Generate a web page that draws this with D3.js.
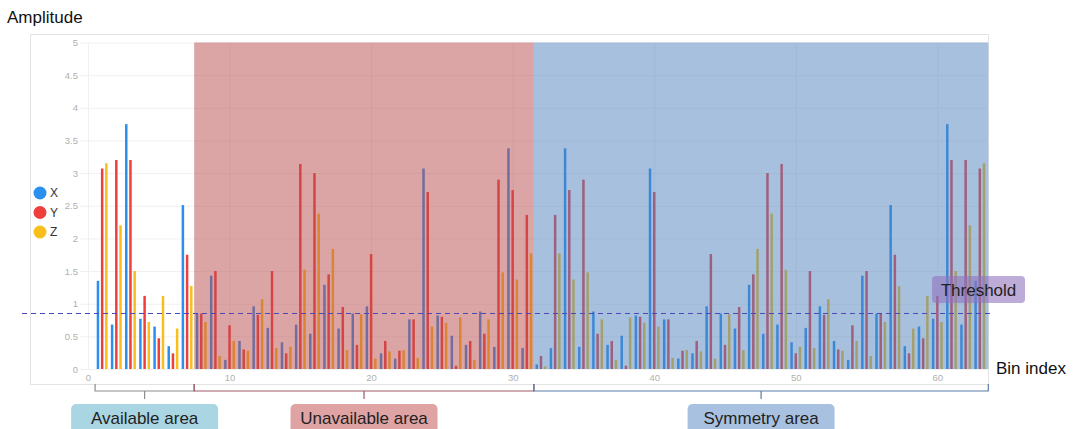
<!DOCTYPE html>
<html>
<head>
<meta charset="utf-8">
<script src="https://cdn.jsdelivr.net/npm/d3@7"></script>
<style>
  body { margin: 0; background: #fff; }
  svg { display: block; font-family: "Liberation Sans", Arial, sans-serif; }
</style>
</head>
<body>
<svg id="chart" width="1073" height="429"></svg>
<script>
// bin index 1..63 (values in 33..63 mirror 31..1 in the picture)
const bins = d3.range(1, 64);
const seriesNames = ["X", "Y", "Z"];

const xValues = [1.35,0.68,3.75,0.77,0.65,0.35,2.51,0.85,1.43,0.14,0.43,0.96,0.63,0.41,0.68,0.54,1.29,0.62,0.85,0.96,0.24,0.16,0.76,3.07,0.82,0.51,0.37,0.88,0.34,3.38,0.32,0.07,
  0.32,3.38,0.34,0.88,0.37,0.51,0.82,3.07,0.76,0.16,0.24,0.96,0.85,0.62,1.29,0.54,0.68,0.41,0.63,0.96,0.43,0.14,1.43,0.85,2.51,0.35,0.65,0.77,3.75,0.68,1.35];
const yValues = [3.07,3.20,3.20,1.12,0.47,0.24,1.75,0.85,1.50,0.67,0.30,0.83,1.50,0.24,3.14,3.00,1.45,0.95,0.37,1.76,0.43,0.28,0.76,2.71,0.80,0.05,0.43,0.54,2.90,2.74,2.36,0.20,
  2.36,2.74,2.90,0.54,0.43,0.05,0.80,2.71,0.76,0.28,0.43,1.76,0.37,0.95,1.45,3.00,3.14,0.24,1.50,0.83,0.30,0.67,1.50,0.85,1.75,0.24,0.47,1.12,3.20,3.20,3.07];
const zValues = [3.15,2.20,1.50,0.72,1.12,0.62,1.27,0.72,0.20,0.43,0.28,1.07,0.32,0.34,1.52,2.38,1.84,0.29,0.84,0.16,0.27,0.29,0.17,0.65,0.71,0.79,0.14,0.76,1.48,1.37,1.77,0.04,
  1.77,1.37,1.48,0.76,0.14,0.79,0.71,0.65,0.17,0.29,0.27,0.16,0.84,0.29,1.84,2.38,1.52,0.34,0.32,1.07,0.28,0.43,0.20,0.72,1.27,0.62,1.12,0.72,1.50,2.20,3.15];

const yTicks = [0, 0.5, 1, 1.5, 2, 2.5, 3, 3.5, 4, 4.5, 5];
const xTicks = [0, 10, 20, 30, 40, 50, 60];
const threshold = 0.85;

const areaNames = ["Available area", "Unavailable area", "Symmetry area"];
const areaStarts = [0.5, 7.5, 31.5];
const areaEnds = [7.5, 31.5, 63.6];

const seriesColors = ["#2b8fee", "#ef3f3c", "#f8bf1c"];
const shadeColors = [null, "rgb(185,75,75)", "rgb(80,130,190)"];
const bracketColors = ["#8c8c8c", "#a05a6a", "#5a7aa8"];
const labelColors = ["#a9d6e2", "#e0a3a3", "#a8c1e1"];

const svg = d3.select("#chart");

const x = d3.scaleLinear().domain([0, 63.65]).range([88, 989]);
const y = d3.scaleLinear().domain([0, 5]).range([369, 42.5]);
const sub = d3.scaleBand().domain(seriesNames).range([-5.45, 5.45]).paddingInner(0.405);

// outer frame
svg.append("rect")
  .attr("x", 30.5).attr("y", 34.5)
  .attr("width", 958).attr("height", 350)
  .attr("fill", "none").attr("stroke", "#e3e3e3");

// grid
svg.append("g")
  .attr("transform", `translate(80,0)`)
  .call(d3.axisLeft(y).tickValues(yTicks).tickSize(-909).tickFormat(""))
  .call(g => g.select(".domain").remove())
  .call(g => g.selectAll("line").attr("stroke", "#f0f0f0"));
svg.append("g")
  .attr("transform", `translate(0,369)`)
  .call(d3.axisBottom(x).tickValues(xTicks).tickSize(-326.5).tickFormat(""))
  .call(g => g.select(".domain").remove())
  .call(g => g.selectAll("line").attr("stroke", "#f0f0f0"));

// bars
const allValues = [xValues, yValues, zValues];
seriesNames.forEach((name, si) => {
  svg.append("g").selectAll("rect")
    .data(bins)
    .join("rect")
    .attr("x", b => x(b) + sub(name))
    .attr("y", (b, i) => y(allValues[si][i]))
    .attr("width", sub.bandwidth())
    .attr("height", (b, i) => y(0) - y(allValues[si][i]))
    .attr("fill", seriesColors[si]);
});

// shaded areas over the bars
areaNames.forEach((n, i) => {
  if (!shadeColors[i]) return;
  svg.append("rect")
    .attr("x", x(areaStarts[i]))
    .attr("y", y(5))
    .attr("width", x(areaEnds[i]) - x(areaStarts[i]))
    .attr("height", y(0) - y(5))
    .attr("fill", shadeColors[i])
    .attr("fill-opacity", 0.5);
});

// axes labels
svg.append("g")
  .attr("transform", `translate(78,0)`)
  .call(d3.axisLeft(y).tickValues(yTicks).tickSize(0).tickPadding(0).tickFormat(d3.format("~g")))
  .call(g => g.select(".domain").remove())
  .call(g => g.selectAll("text").attr("fill", "#b0b0b0").attr("font-size", 9.5)
    .attr("font-family", "Liberation Sans, Arial, sans-serif"));
svg.append("g")
  .attr("transform", `translate(0,374)`)
  .call(d3.axisBottom(x).tickValues(xTicks).tickSize(0).tickPadding(0))
  .call(g => g.select(".domain").remove())
  .call(g => g.selectAll("text").attr("fill", "#b0b0b0").attr("font-size", 9.5)
    .attr("font-family", "Liberation Sans, Arial, sans-serif"));

// threshold
svg.append("line")
  .attr("x1", 22).attr("x2", 992)
  .attr("y1", y(threshold)).attr("y2", y(threshold))
  .attr("stroke", "#4a48b8").attr("stroke-width", 1)
  .attr("stroke-dasharray", "5,4");
svg.append("rect")
  .attr("x", 932).attr("y", 276)
  .attr("width", 93).attr("height", 27).attr("rx", 4)
  .attr("fill", "rgb(145,115,190)").attr("fill-opacity", 0.6);
svg.append("text")
  .attr("x", 978.5).attr("y", 296)
  .attr("text-anchor", "middle")
  .attr("font-size", 17).attr("fill", "#222")
  .text("Threshold");

// titles
svg.append("text").attr("x", 7).attr("y", 23)
  .attr("font-size", 17).attr("fill", "#111").text("Amplitude");
svg.append("text").attr("x", 996).attr("y", 374)
  .attr("font-size", 17).attr("fill", "#111").text("Bin index");

// legend
const legend = svg.append("g");
seriesNames.forEach((n, i) => {
  legend.append("circle")
    .attr("cx", 40).attr("cy", 193 + i * 19.5).attr("r", 6.5)
    .attr("fill", seriesColors[i]);
  legend.append("text")
    .attr("x", 50).attr("y", 193 + i * 19.5).attr("dy", "0.36em")
    .attr("font-size", 12).attr("fill", "#333").text(n);
});

// brackets and area labels
areaNames.forEach((n, i) => {
  const x0 = x(areaStarts[i]), x1 = x(areaEnds[i]), xm = (x0 + x1) / 2;
  svg.append("path")
    .attr("d", `M${x0},384 V391 H${x1} V384 M${xm},391 V399`)
    .attr("fill", "none").attr("stroke", bracketColors[i]).attr("stroke-width", 1.2);
  svg.append("rect")
    .attr("x", xm - 73.5).attr("y", 404)
    .attr("width", 147).attr("height", 34).attr("rx", 5)
    .attr("fill", labelColors[i]);
  svg.append("text")
    .attr("x", xm).attr("y", 424)
    .attr("text-anchor", "middle")
    .attr("font-size", 17).attr("fill", "#222")
    .text(n);
});
</script>
</body>
</html>
